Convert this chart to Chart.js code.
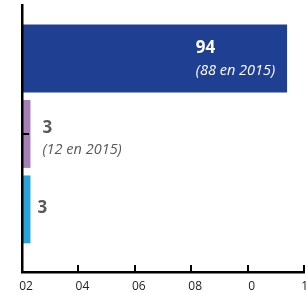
<!DOCTYPE html>
<html lang="fr">
<head>
  <meta charset="UTF-8">
  <title>Répartition</title>
  <style>
    body {
      margin: 0;
      padding: 0;
      background-color: #ffffff;
    }
    .chart-box {
      position: relative;
      width: 307px;
      height: 293px;
    }
  </style>
</head>
<body>

  <div class="chart-box">
    <canvas id="repartitionChart"></canvas>
  </div>

  <script src="https://cdn.jsdelivr.net/npm/chart.js"></script>
  <script>
    // Données
    const rows = [1, 2, 3];
    const values = [94, 3, 3];
    const mainLabels = ['94', '3', '3'];
    const subLabels = ['(88 en 2015)', '(12 en 2015)', ''];
    const barColors = ['#1f3f93', '#a67fba', '#28a3dc'];
    const xTickLabels = ['02', '04', '06', '08', '0', '10'];
    const yTickRows = [2];

    // Petites graduations tournées vers l'intérieur
    const inwardTicks = {
      id: 'inwardTicks',
      afterDraw(chart) {
        const ctx = chart.ctx;
        const xs = chart.scales.x;
        const ys = chart.scales.y;
        const area = chart.chartArea;
        ctx.save();
        ctx.strokeStyle = '#000000';
        ctx.lineWidth = 2;
        ctx.beginPath();
        xs.ticks.forEach(t => {
          const px = Math.round(xs.getPixelForValue(t.value));
          ctx.moveTo(px, area.bottom);
          ctx.lineTo(px, area.bottom - 7);
        });
        yTickRows.forEach(v => {
          const py = Math.round(ys.getPixelForValue(v));
          ctx.moveTo(area.left, py);
          ctx.lineTo(area.left + 7, py);
        });
        ctx.stroke();
        ctx.restore();
      }
    };

    // Étiquettes de valeur dessinées à côté / dans les barres
    const valueLabels = {
      id: 'valueLabels',
      afterDatasetsDraw(chart) {
        const ctx = chart.ctx;
        const meta = chart.getDatasetMeta(0);
        ctx.save();
        ctx.textBaseline = 'middle';
        ctx.textAlign = 'left';
        meta.data.forEach((bar, i) => {
          const main = mainLabels[i];
          const sub = subLabels[i];
          const inside = values[i] > 50;
          ctx.fillStyle = inside ? '#ffffff' : '#595959';
          ctx.font = 'italic 14.5px "Open Sans"';
          const subWidth = sub ? ctx.measureText(sub).width : 0;
          let left, mainY, subY;
          if (inside) {
            left = bar.x - 12 - subWidth;
            mainY = bar.y - 10;
            subY = bar.y + 12;
          } else if (sub) {
            left = bar.x + 12;
            mainY = bar.y - 6;
            subY = bar.y + 16;
          } else {
            left = bar.x + 7;
            mainY = bar.y - 1;
          }
          ctx.font = 'bold 17px "Open Sans"';
          ctx.fillText(main, left, mainY);
          if (sub) {
            ctx.font = 'italic 14.5px "Open Sans"';
            ctx.fillText(sub, left, subY);
          }
        });
        ctx.restore();
      }
    };

    function generateChart() {
      const ctx = document.getElementById('repartitionChart').getContext('2d');
      new Chart(ctx, {
        type: 'bar',
        data: {
          datasets: [{
            data: rows.map((r, i) => ({ x: values[i], y: r })),
            backgroundColor: barColors,
            borderWidth: 0,
            categoryPercentage: 1,
            barPercentage: 0.9
          }]
        },
        options: {
          indexAxis: 'y',
          responsive: true,
          maintainAspectRatio: false,
          animation: false,
          layout: {
            padding: { left: 22, right: 3, top: 5, bottom: 0 }
          },
          plugins: {
            legend: { display: false },
            tooltip: { enabled: false }
          },
          scales: {
            x: {
              type: 'linear',
              min: 0,
              max: 100,
              border: { color: '#000000', width: 2.5, z: 1 },
              grid: { display: false, drawTicks: false },
              ticks: {
                stepSize: 20,
                padding: 7,
                labelOffset: 4,
                color: '#222222',
                font: { family: '"Open Sans"', size: 12 },
                callback: (v, i) => xTickLabels[i]
              },
              afterFit: (scale) => {
                scale.height = 21;
                scale.paddingLeft = 0;
                scale.paddingRight = 0;
              }
            },
            y: {
              type: 'linear',
              reverse: true,
              min: 0.29,
              max: 3.83,
              offset: false,
              border: { color: '#000000', width: 2.5, z: 1 },
              grid: { display: false, drawTicks: false, offset: false },
              ticks: { display: false, stepSize: 1, includeBounds: false },
              afterFit: (scale) => {
                scale.width = 0;
              }
            }
          }
        },
        plugins: [inwardTicks, valueLabels]
      });
    }

    document.addEventListener('DOMContentLoaded', generateChart);
  </script>

</body>
</html>
